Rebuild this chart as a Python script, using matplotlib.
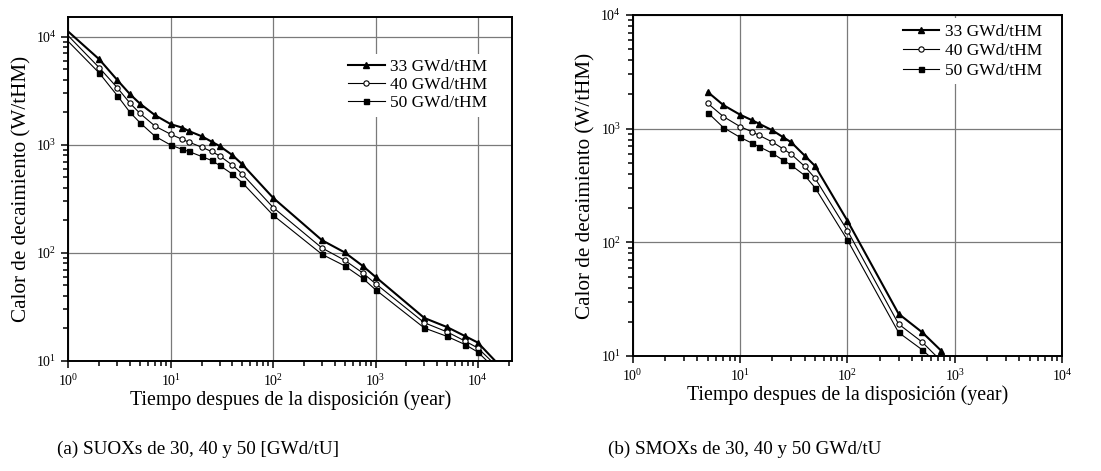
import matplotlib
matplotlib.use("Agg")
import matplotlib.pyplot as plt
import numpy as np

plt.rcParams['font.family'] = ['Liberation Serif', 'DejaVu Serif']
plt.rcParams['mathtext.fontset'] = 'custom'
plt.rcParams['mathtext.rm'] = 'Liberation Serif'
plt.rcParams['mathtext.it'] = 'Liberation Serif:italic'
plt.rcParams['mathtext.bf'] = 'Liberation Serif:bold'

# ---------------- data ----------------
labels = ["33 GWd/tHM", "40 GWd/tHM", "50 GWd/tHM"]

# (a) SUOX
t_uox = [1, 2, 3, 4, 5, 7, 10, 13, 15, 20, 25, 30, 40, 50, 100, 300, 500, 750,
         1000, 3000, 5000, 7500, 10000, 20000]
uox_33 = [11100, 6170, 3970, 2930, 2400, 1880, 1550, 1440, 1340, 1200, 1070, 973,
          802, 658, 323, 131, 101, 75.8, 60, 25, 20.6, 17.0, 14.8, 7.4]
uox_40 = [10140, 5160, 3370, 2420, 1950, 1490, 1250, 1120, 1060, 951, 867, 790,
          648, 535, 263, 111, 85.5, 65.3, 52, 22.6, 18.6, 15.3, 13.2, 7.0]
uox_50 = [8990, 4610, 2850, 1990, 1600, 1200, 993, 906, 867, 780, 716, 644,
          535, 445, 223, 97, 75.9, 58.2, 45.7, 20.2, 16.9, 14.2, 12.1, 6.4]

# (b) SMOX
t_mox = [5, 7, 10, 13, 15, 20, 25, 30, 40, 50, 100, 300, 500, 750]
mox_33 = [2100, 1610, 1327, 1183, 1106, 966, 845, 758, 579, 469, 155, 23.5, 16.1, 11.1]
mox_40 = [1670, 1276, 1043, 936, 874, 763, 667, 595, 466, 366, 127, 19.1, 13.2, 9.0]
mox_50 = [1384, 1021, 839, 743, 695, 607, 530, 476, 388, 302, 105, 16.1, 11.3, 8.0]

captions = ["(a) SUOXs de 30, 40 y 50 [GWd/tU]", "(b) SMOXs de 30, 40 y 50 GWd/tU"]
xlabel = "Tiempo despues de la disposición (year)"
ylabel = "Calor de decaimiento (W/tHM)"

# ---------------- styles ----------------
styles = [
    dict(color='black', lw=1.5, marker='^', ms=4.8, mfc='black', mec='black'),
    dict(color='black', lw=0.8, marker='o', ms=3.8, mfc='white', mec='black', mew=0.8),
    dict(color='black', lw=0.8, marker='s', ms=3.6, mfc='black', mec='black'),
]

fig = plt.figure(figsize=(11.01, 4.71), dpi=100)
axA = fig.add_axes([0.0622, 0.2335, 0.4031, 0.731])
axB = fig.add_axes([0.5747, 0.2442, 0.3899, 0.724])


def style_axes(ax, xlim, ylim):
    ax.set_xscale('log')
    ax.set_yscale('log')
    ax.set_xlim(*xlim)
    ax.set_ylim(*ylim)
    ax.grid(True, which='major', color='#7a7a7a', lw=0.9)
    ax.set_axisbelow(True)
    for s in ax.spines.values():
        s.set_linewidth(1.4)
    ax.tick_params(which='both', direction='out', top=False, right=False,
                   labelsize=10, width=1.1)
    ax.tick_params(which='major', length=5)
    ax.tick_params(which='minor', length=3.5)
    ax.set_xlabel(xlabel, fontsize=14.3, labelpad=1)
    ax.set_ylabel(ylabel, fontsize=15.2, labelpad=3)


style_axes(axA, (1, 2.17e4), (10, 1.53e4))
style_axes(axB, (1, 1e4), (10, 1e4))

for ys, st, lab in zip([uox_33, uox_40, uox_50], styles, labels):
    axA.plot(t_uox, ys, label=lab, markevery=slice(1, len(t_uox) - 1), **st)
for ys, st, lab in zip([mox_33, mox_40, mox_50], styles, labels):
    axB.plot(t_mox, ys, label=lab, **st)

legkw = dict(fontsize=12.5, handlelength=2.1, handletextpad=0.3,
             borderpad=0.3, frameon=True, fancybox=False, framealpha=1,
             edgecolor='none', facecolor='white', borderaxespad=0)
axA.legend(loc='upper right', bbox_to_anchor=(0.955, 0.893), labelspacing=0.12, **legkw)
axB.legend(loc='upper right', bbox_to_anchor=(0.965, 0.99), labelspacing=0.2, **legkw)

fig.text(198 / 1101, 1 - 449 / 471, captions[0], ha='center', va='center', fontsize=13.8)
fig.text(745 / 1101, 1 - 449 / 471, captions[1], ha='center', va='center', fontsize=13.8)

fig.savefig('out.png', dpi=100)
